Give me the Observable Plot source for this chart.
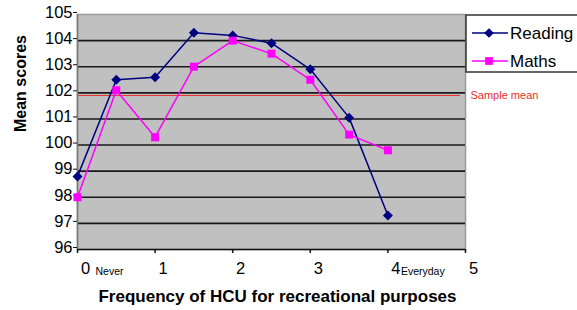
<!DOCTYPE html>
<html>
<head>
<meta charset="utf-8">
<script src="https://cdn.jsdelivr.net/npm/d3@7"></script>
<script src="https://cdn.jsdelivr.net/npm/@observablehq/plot@0.6"></script>
<style>
  html, body { margin: 0; padding: 0; background: white; }
  #chart { position: relative; width: 577px; height: 310px; overflow: hidden; }
</style>
</head>
<body>
<div id="chart"></div>
<script>
// Data
const frequency = [0, 0.5, 1, 1.5, 2, 2.5, 3, 3.5, 4];
const reading = [98.8, 102.5, 102.6, 104.3, 104.2, 103.9, 102.9, 101.05, 97.3];
const maths = [98.0, 102.1, 100.3, 103.0, 104.0, 103.5, 102.5, 100.4, 99.8];
const sampleMean = 101.9;
const seriesNames = ["Reading", "Maths"];
const seriesColors = ["#000080", "#ff00ff"];
const seriesSymbols = ["diamond2", "square"];
const xTicks = [0, 1, 2, 3, 4, 5];
const yTicks = [96, 97, 98, 99, 100, 101, 102, 103, 104, 105];
const neverLabel = [{x: 0, label: "Never"}];
const everydayLabel = [{x: 4, label: "Everyday"}];
const xTitle = "Frequency of HCU for recreational purposes";
const yTitle = "Mean scores";

const rows = [];
frequency.forEach((f, i) => {
  rows.push({series: seriesNames[0], x: f, y: reading[i]});
  rows.push({series: seriesNames[1], x: f, y: maths[i]});
});

const font = "'Liberation Sans', Arial, sans-serif";

const chart = Plot.plot({
  width: 577,
  height: 310,
  marginLeft: 77,
  marginRight: 112,
  marginTop: 14,
  marginBottom: 61,
  style: {fontFamily: font, background: "white", overflow: "visible", color: "#000"},
  x: {domain: [0, 5]},
  y: {domain: [96, 105]},
  color: {domain: seriesNames, range: seriesColors},
  symbol: {domain: seriesNames, range: seriesSymbols},
  marks: [
    Plot.frame({fill: "#c0c0c0", stroke: "#999", strokeWidth: 1.5}),
    Plot.ruleY(yTicks.slice(1, -1), {stroke: "#1a1a1a", strokeWidth: 1.6}),
    Plot.ruleY([sampleMean], {stroke: "#e8302a", strokeWidth: 1, insetRight: 5}),
    Plot.ruleX([0], {stroke: "#777", strokeWidth: 1.5}),
    Plot.ruleY([96], {stroke: "#111", strokeWidth: 1.5}),
    Plot.axisY({ticks: yTicks, tickSize: 4, tickPadding: 1, dy: -2, fontSize: 16.5, label: null, stroke: "#111"}),
    Plot.axisX({ticks: xTicks, tickSize: 4, text: null, label: null, stroke: "#111", strokeWidth: 1.5}),
    Plot.text(xTicks, {x: d => d, frameAnchor: "bottom", dy: 24, dx: 8, fontSize: 16.5, text: d => String(d)}),
    Plot.text(neverLabel, {x: "x", text: "label", frameAnchor: "bottom", dy: 25, dx: 18, textAnchor: "start", fontSize: 10.5}),
    Plot.text(everydayLabel, {x: "x", text: "label", frameAnchor: "bottom", dy: 25, dx: 13, textAnchor: "start", fontSize: 10.5}),
    Plot.line(rows, {x: "x", y: "y", stroke: "series", strokeWidth: 1.5}),
    Plot.dot(rows, {x: "x", y: "y", fill: "series", symbol: "series", r: 4.5, stroke: null}),
    Plot.text([sampleMean], {x: 5, y: d => d, text: () => "Sample mean", textAnchor: "start", dx: 5, dy: 0, fill: "#e8302a", fontSize: 11}),
    Plot.text([xTitle], {frameAnchor: "bottom", dy: 52, dx: 6, fontWeight: "bold", fontSize: 17, text: d => d}),
    Plot.text([yTitle], {frameAnchor: "left", dx: -57, rotate: -90, fontWeight: "bold", fontSize: 16, text: d => d})
  ]
});

document.getElementById("chart").appendChild(chart);

// Legend (drawn into the same SVG)
const svg = d3.select(chart);
const lg = svg.append("g").attr("transform", "translate(466,15)");
lg.append("rect").attr("x", 0).attr("y", 0).attr("width", 130).attr("height", 57)
  .attr("fill", "white").attr("stroke", "#333").attr("stroke-width", 1.5);
seriesNames.forEach((name, i) => {
  const cy = 18 + i * 28;
  const g = lg.append("g").attr("transform", `translate(0,${cy})`);
  g.append("line").attr("x1", 6).attr("x2", 42).attr("y1", 0).attr("y2", 0)
    .attr("stroke", seriesColors[i]).attr("stroke-width", 1.5);
  const sym = seriesSymbols[i] === "diamond2" ? d3.symbolDiamond2 : d3.symbolSquare;
  g.append("path").attr("d", d3.symbol(sym, 60)()).attr("transform", "translate(23,0)")
    .attr("fill", seriesColors[i]);
  g.append("text").attr("x", 44).attr("y", 0).attr("dy", "0.35em").attr("text-anchor", "start")
    .attr("font-family", font).attr("font-size", 17).attr("fill", "#000").text(name);
});
</script>
</body>
</html>
